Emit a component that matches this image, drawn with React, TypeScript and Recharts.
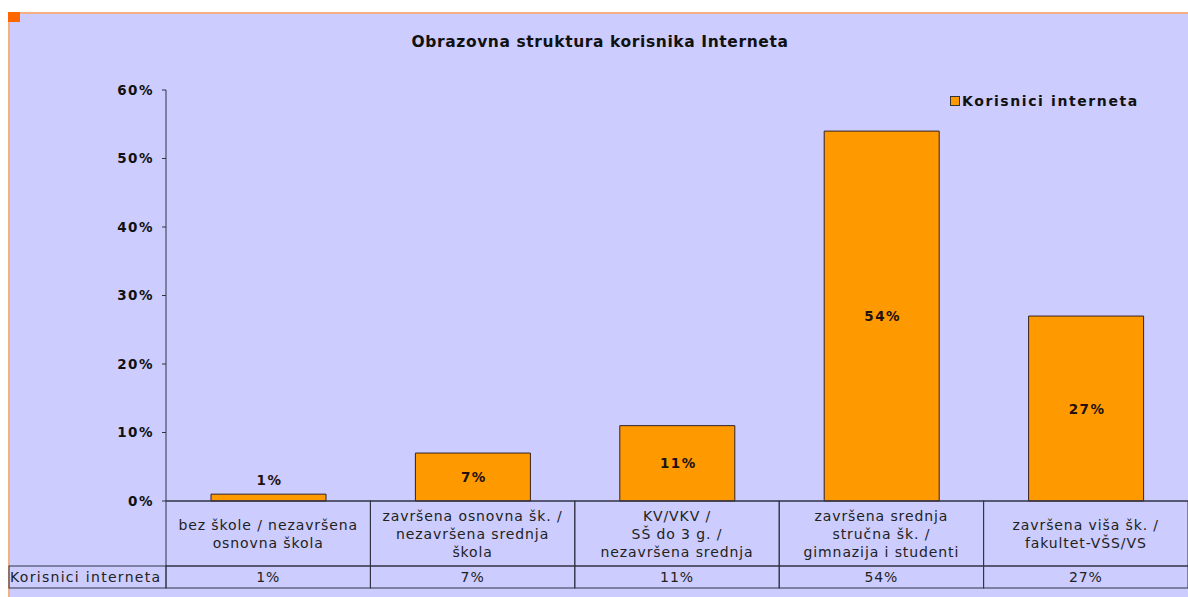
import { Bar, BarChart, LabelList, XAxis, YAxis } from "recharts";

const categories = [
  "bez škole / nezavršena\nosnovna škola",
  "završena osnovna šk. /\nnezavršena srednja\nškola",
  "KV/VKV /\nSŠ do 3 g. /\nnezavršena srednja",
  "završena srednja\nstručna šk. /\ngimnazija i studenti",
  "završena viša šk. /\nfakultet-VŠS/VS",
];
const values = [1, 7, 11, 54, 27];
const yTicks = [0, 10, 20, 30, 40, 50, 60];
const seriesName = "Korisnici interneta";
const title = "Obrazovna struktura korisnika Interneta";

const data = categories.map((name, i) => ({ name, value: values[i] }));

const W = 1180;
const H = 585;
const LEFT = 158;
const BAND = (W - LEFT) / categories.length;
const FONT = "'DejaVu Sans', Verdana, sans-serif";
const LINE = "#333344";

function TableTick({ x, y, payload, index }: any) {
  const lines = String(payload.value).split("\n");
  const cellH = 65;
  const rowH = 22;
  const x0 = x - BAND / 2;
  const mid = y + cellH / 2;
  const start = mid - ((lines.length - 1) * 18) / 2;
  const txt = { fontFamily: FONT, fontSize: 14, letterSpacing: 0.9, fill: "#222" };
  return (
    <g>
      <rect x={x0} y={y} width={BAND} height={cellH} fill="none" stroke={LINE} />
      <rect x={x0} y={y + cellH} width={BAND} height={rowH} fill="none" stroke={LINE} />
      {lines.map((l, i) => (
        <text key={i} x={x} y={start + i * 18} textAnchor="middle" dominantBaseline="central" {...txt}>
          {l}
        </text>
      ))}
      <text x={x} y={y + cellH + rowH / 2} textAnchor="middle" dominantBaseline="central" {...txt}>
        {values[index]}%
      </text>
      {index === 0 && (
        <g>
          <rect x={1} y={y + cellH} width={x0 - 1} height={rowH} fill="none" stroke={LINE} />
          <text x={2} y={y + cellH + rowH / 2} dominantBaseline="central" {...txt} letterSpacing={1.3}>
            {seriesName}
          </text>
        </g>
      )}
    </g>
  );
}

function BarLabel({ x, y, width, height, value }: any) {
  const small = height < 20;
  return (
    <text
      x={x + width / 2 + 1}
      y={small ? y - 14 : y + height / 2}
      textAnchor="middle"
      dominantBaseline="central"
      fontFamily={FONT}
      fontWeight="bold"
      fontSize={13.5}
      letterSpacing={1.5}
      fill="#221111"
    >
      {value}%
    </text>
  );
}

export default function App() {
  return (
    <div
      style={{
        position: "fixed",
        left: 8,
        top: 12,
        width: W,
        height: H,
        background: "#CCCCFF",
        borderTop: "2px solid #F4B080",
        borderLeft: "2px solid #F4B080",
        boxSizing: "border-box",
      }}
    >
      <div
        style={{
          position: "absolute",
          left: -2,
          top: -2,
          width: 12,
          height: 10,
          background: "#FF6600",
        }}
      />
      <div
        style={{
          position: "absolute",
          top: 19,
          left: 0,
          width: W,
          textAlign: "center",
          fontFamily: FONT,
          fontWeight: "bold",
          fontSize: 15.5,
          letterSpacing: 0.6,
          color: "#111",
        }}
      >
        {title}
      </div>
      <div style={{ position: "absolute", left: -2, top: -2 }}>
        <BarChart
          width={W}
          height={H}
          data={data}
          margin={{ top: 78, right: 0, bottom: 0, left: 0 }}
        >
          <YAxis
            width={LEFT}
            domain={[0, 60]}
            ticks={yTicks}
            tickFormatter={(v) => `${v}%`}
            tickSize={4}
            tickMargin={8}
            axisLine={{ stroke: LINE }}
            tickLine={{ stroke: LINE }}
            tick={{
              fill: "#111",
              fontFamily: FONT,
              fontWeight: "bold",
              fontSize: 13.5,
              letterSpacing: 1.5,
            }}
          />
          <XAxis
            dataKey="name"
            height={96}
            interval={0}
            tickSize={0}
            tickMargin={0}
            axisLine={{ stroke: LINE }}
            tickLine={false}
            tick={<TableTick />}
          />
          <Bar
            dataKey="value"
            name={seriesName}
            fill="#FF9900"
            stroke="#332222"
            strokeWidth={1}
            barSize={115}
            isAnimationActive={false}
          >
            <LabelList dataKey="value" content={<BarLabel />} />
          </Bar>
        </BarChart>
      </div>
      <div
        style={{
          position: "absolute",
          top: 79,
          left: 940,
          display: "flex",
          alignItems: "center",
          fontFamily: FONT,
          fontWeight: "bold",
          fontSize: 14,
          letterSpacing: 1.6,
          color: "#111",
        }}
      >
        <span
          style={{
            width: 8,
            height: 8,
            background: "#FF9900",
            border: "1px solid #333",
            marginRight: 2,
          }}
        />
        {seriesName}
      </div>
    </div>
  );
}
